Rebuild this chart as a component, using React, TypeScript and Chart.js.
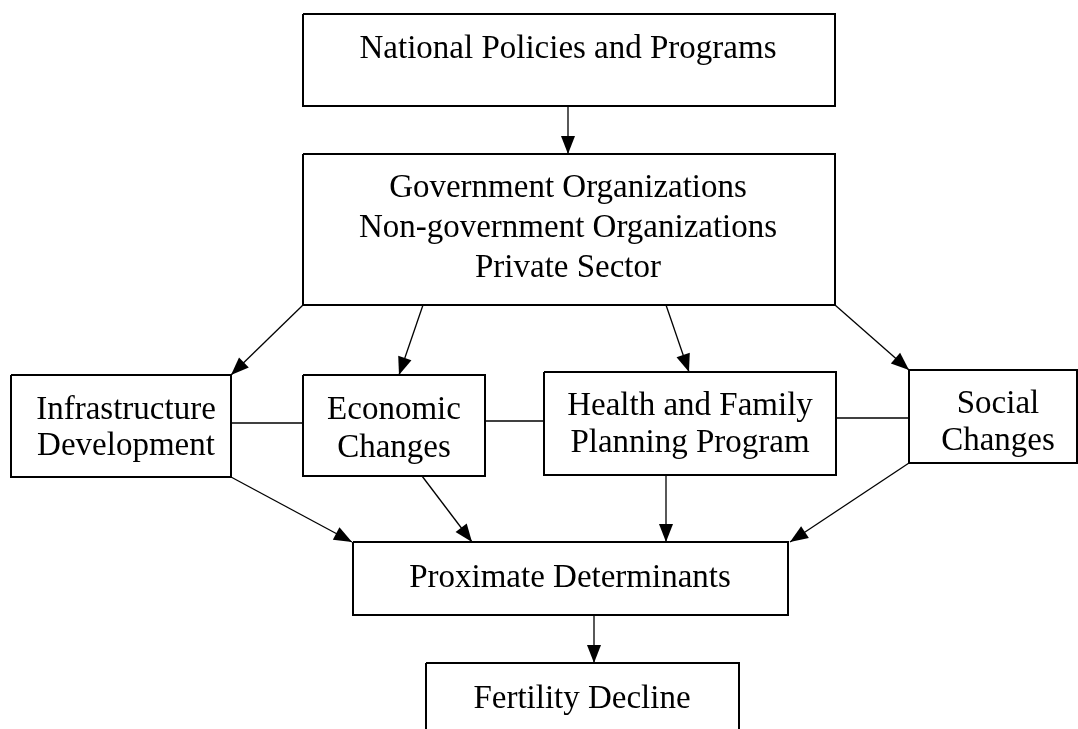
import React, { useEffect, useRef } from "react";
import { Chart, registerables } from "chart.js";

Chart.register(...registerables);

// Nodes of the flow diagram (diagram units: x 0..1078, y 0..729 top-down)
const boxLabels: string[][] = [
  ["National Policies and Programs"],
  ["Government Organizations", "Non-government Organizations", "Private Sector"],
  ["Infrastructure", "Development"],
  ["Economic", "Changes"],
  ["Health and Family", "Planning Program"],
  ["Social", "Changes"],
  ["Proximate Determinants"],
  ["Fertility Decline"],
];
const boxLeft = [303, 303, 11, 303, 544, 909, 353, 426];
const boxRight = [835, 835, 231, 485, 836, 1077, 788, 739];
const boxTop = [14, 154, 375, 375, 372, 370, 542, 663];
const boxBottom = [106, 305, 477, 476, 475, 463, 615, 745];
const labelCenterX = [568, 568, 126, 394, 690, 998, 570, 582];
const labelFirstBaseline = [58, 197, 419, 419, 415, 413, 587, 708];
const labelLineStep = [0, 40, 36, 38, 37, 37, 0, 0];

// Edges
const edgeFromX = [568, 303, 423, 666, 835, 231, 485, 836, 231, 422, 666, 909, 594];
const edgeFromY = [106, 305, 305, 305, 305, 423, 421, 418, 477, 476, 475, 463, 615];
const edgeToX = [568, 231, 399, 689, 909, 303, 544, 909, 352, 472, 666, 790, 594];
const edgeToY = [154, 375, 375, 372, 370, 423, 421, 418, 542, 542, 542, 542, 663];
const edgeArrow = [true, true, true, true, true, false, false, false, true, true, true, true, true];

const W = 1078;
const H = 729;

export default function App() {
  const ref = useRef<HTMLCanvasElement | null>(null);

  useEffect(() => {
    document.body.style.margin = "0";
    document.body.style.background = "#ffffff";
    const canvas = ref.current;
    if (!canvas) return;

    const datasets: any[] = [];
    boxLabels.forEach((_, i) => {
      datasets.push({
        label: "box" + i,
        data: [
          { x: boxLeft[i], y: boxTop[i] },
          { x: boxRight[i], y: boxTop[i] },
          { x: boxRight[i], y: boxBottom[i] },
          { x: boxLeft[i], y: boxBottom[i] },
          { x: boxLeft[i], y: boxTop[i] },
        ],
        showLine: true,
        borderColor: "#000000",
        borderWidth: 2,
        borderJoinStyle: "miter",
        pointRadius: 0,
        fill: false,
        tension: 0,
      });
    });
    edgeFromX.forEach((_, i) => {
      datasets.push({
        label: "edge" + i,
        data: [
          { x: edgeFromX[i], y: edgeFromY[i] },
          { x: edgeToX[i], y: edgeToY[i] },
        ],
        showLine: true,
        borderColor: "#000000",
        borderWidth: 1.3,
        pointRadius: 0,
        fill: false,
        tension: 0,
      });
    });

    const diagramPlugin = {
      id: "diagram",
      afterDatasetsDraw(chart: any) {
        const { ctx } = chart;
        const xs = chart.scales.x;
        const ys = chart.scales.y;
        ctx.save();
        // arrowheads
        ctx.fillStyle = "#000000";
        edgeFromX.forEach((_, i) => {
          if (!edgeArrow[i]) return;
          const x0 = xs.getPixelForValue(edgeFromX[i]);
          const y0 = ys.getPixelForValue(edgeFromY[i]);
          const x1 = xs.getPixelForValue(edgeToX[i]);
          const y1 = ys.getPixelForValue(edgeToY[i]);
          const ang = Math.atan2(y1 - y0, x1 - x0);
          const len = 18;
          const hw = 7;
          const bx = x1 - Math.cos(ang) * len;
          const by = y1 - Math.sin(ang) * len;
          ctx.beginPath();
          ctx.moveTo(x1, y1);
          ctx.lineTo(bx + Math.sin(ang) * hw, by - Math.cos(ang) * hw);
          ctx.lineTo(bx - Math.sin(ang) * hw, by + Math.cos(ang) * hw);
          ctx.closePath();
          ctx.fill();
        });
        // labels
        ctx.font = '33px "Liberation Serif", "Times New Roman", serif';
        ctx.textAlign = "center";
        ctx.textBaseline = "alphabetic";
        boxLabels.forEach((lines, i) => {
          const cx = xs.getPixelForValue(labelCenterX[i]);
          lines.forEach((t, k) => {
            const y = ys.getPixelForValue(labelFirstBaseline[i] + k * labelLineStep[i]);
            ctx.fillText(t, cx, y);
          });
        });
        ctx.restore();
      },
    };

    const chart = new Chart(canvas, {
      type: "scatter",
      data: { datasets },
      options: {
        animation: false,
        responsive: false,
        maintainAspectRatio: false,
        layout: { padding: 0 },
        events: [],
        plugins: {
          legend: { display: false },
          tooltip: { enabled: false },
          title: { display: false },
        },
        scales: {
          x: { type: "linear", min: 0, max: W, display: false },
          y: { type: "linear", min: 0, max: H, reverse: true, display: false },
        },
      },
      plugins: [diagramPlugin],
    });

    return () => {
      chart.destroy();
    };
  }, []);

  return (
    <div style={{ width: W, height: H, background: "#ffffff" }}>
      <canvas ref={ref} width={W} height={H} style={{ display: "block" }} />
    </div>
  );
}
